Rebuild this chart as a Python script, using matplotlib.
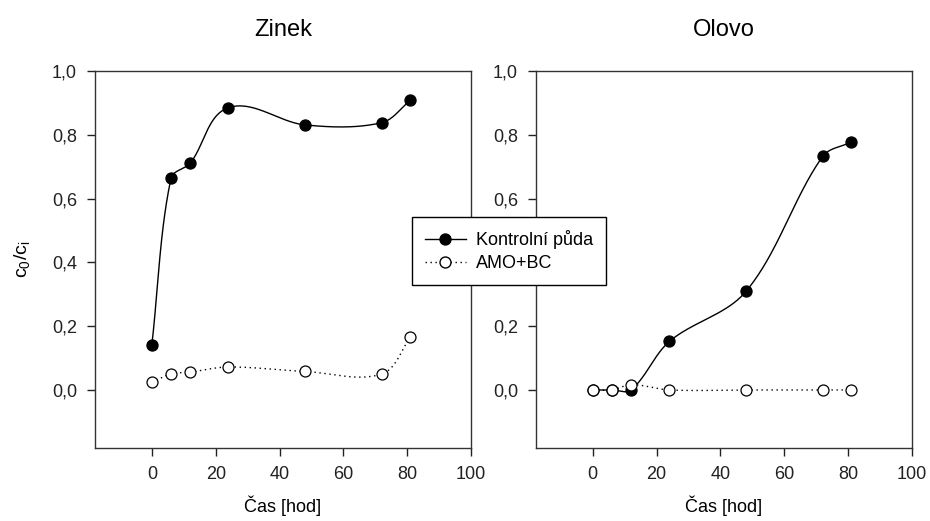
import numpy as np
import matplotlib
matplotlib.use("Agg")
import matplotlib.pyplot as plt
from matplotlib.lines import Line2D
from matplotlib.ticker import FuncFormatter

plt.rcParams['font.family'] = ['Liberation Sans', 'DejaVu Sans']
plt.rcParams['mathtext.fontset'] = 'custom'
plt.rcParams['mathtext.rm'] = 'Liberation Sans'
plt.rcParams['mathtext.it'] = 'Liberation Sans'

# Sampling times [hours]
time_h = [0, 6, 12, 24, 48, 72, 81]

# Zinc: c0/ci
zinek_kontrol = [0.142, 0.664, 0.711, 0.885, 0.831, 0.838, 0.909]
zinek_amo_bc = [0.024, 0.050, 0.056, 0.072, 0.058, 0.050, 0.165]

# Lead: c0/ci
olovo_kontrol = [0.0, 0.0, 0.0, 0.152, 0.309, 0.732, 0.777]
olovo_amo_bc = [0.0, 0.0, 0.017, 0.0, 0.0, 0.0, 0.0]

panel_titles = ["Zinek", "Olovo"]
series_labels = ["Kontrolní půda", "AMO+BC"]
x_ticks = [0, 20, 40, 60, 80, 100]
y_ticks = [0.0, 0.2, 0.4, 0.6, 0.8, 1.0]


def _unit(v):
    return v / np.linalg.norm(v)


def smooth_curve(ax, x, y, n=60):
    """Chord-length Catmull-Rom curve through the points, built in display space."""
    P = ax.transData.transform(np.column_stack([x, y]))
    k = len(P)
    T = np.zeros_like(P)
    for i in range(1, k - 1):
        T[i] = _unit(P[i + 1] - P[i - 1])
    T[0] = _unit(P[1] - P[0])
    T[-1] = _unit(P[-1] - P[-2])
    t = np.linspace(0, 1, n)[:, None]
    parts = []
    for i in range(k - 1):
        d = np.linalg.norm(P[i + 1] - P[i])
        c1 = P[i] + T[i] * d / 3
        c2 = P[i + 1] - T[i + 1] * d / 3
        seg = ((1 - t) ** 3 * P[i] + 3 * (1 - t) ** 2 * t * c1
               + 3 * (1 - t) * t ** 2 * c2 + t ** 3 * P[i + 1])
        parts.append(seg if i == 0 else seg[1:])
    pts = ax.transData.inverted().transform(np.vstack(parts))
    return pts[:, 0], pts[:, 1]


fig = plt.figure(figsize=(9.30, 5.21), dpi=100)
ax_left = fig.add_axes([0.1022, 0.1401, 0.4043, 0.7236])
ax_right = fig.add_axes([0.5763, 0.1401, 0.4043, 0.7236])

comma_fmt = FuncFormatter(lambda v, p: f"{v:.1f}".replace(".", ","))

ms = 7.9
dotted = (0, (1, 2.6))
panels = [(zinek_kontrol, zinek_amo_bc), (olovo_kontrol, olovo_amo_bc)]
for ax, title, (kontrol, amo) in zip([ax_left, ax_right], panel_titles, panels):
    ax.set_xlim(-17.8, 100)
    ax.set_ylim(-0.182, 1.0)

    xs, ys = smooth_curve(ax, time_h, kontrol)
    ax.plot(xs, ys, color='black', lw=1.0, zorder=2)
    ax.plot(time_h, kontrol, 'o', ms=ms, mfc='black', mec='black', mew=1.0, zorder=3)
    xs, ys = smooth_curve(ax, time_h, amo)
    ax.plot(xs, ys, color='black', lw=1.0, ls=dotted, zorder=4)
    ax.plot(time_h, amo, 'o', ms=ms, mfc='white', mec='black', mew=0.9, zorder=5)

    ax.set_xticks(x_ticks)
    ax.set_yticks(y_ticks)
    ax.yaxis.set_major_formatter(comma_fmt)
    ax.tick_params(direction='out', length=6, width=1.0, labelsize=13,
                   colors='#222222', pad=7)
    for s in ax.spines.values():
        s.set_linewidth(1.0)
        s.set_color('#333333')
    ax.set_title(title, fontsize=17, pad=25)
    ax.set_xlabel("Čas [hod]", fontsize=13, labelpad=9)

ax_left.set_ylabel(r"$\mathregular{c_0/c_i}$", fontsize=14, labelpad=14)

handles = [
    Line2D([], [], color='black', lw=1.0, marker='o', ms=ms, mfc='black', mec='black'),
    Line2D([], [], color='black', lw=1.0, ls=dotted, marker='o', ms=ms,
           mfc='white', mec='black'),
]
leg = fig.legend(handles, series_labels, loc='upper left',
                 bbox_to_anchor=(411.5 / 930, 1 - 217.5 / 521),
                 frameon=True, fancybox=False, shadow=False, fontsize=13,
                 handlelength=2.3, handletextpad=0.55, borderpad=0.72,
                 labelspacing=0.3, borderaxespad=0, framealpha=1.0)
leg.get_frame().set_edgecolor('black')
leg.get_frame().set_linewidth(1.0)
leg.set_zorder(10)

fig.savefig("out.png", dpi=100)
